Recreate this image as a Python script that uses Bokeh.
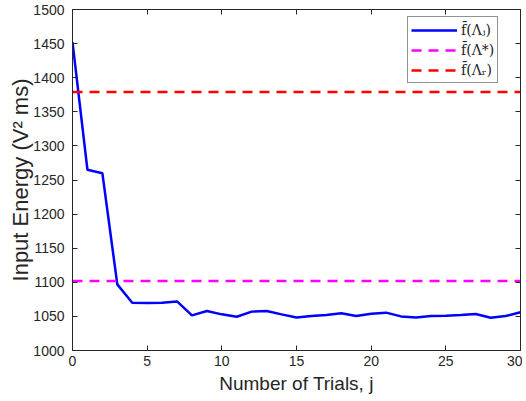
from bokeh.plotting import figure
from bokeh.models import LinearAxis, FixedTicker, Range1d, Legend, LegendItem
from bokeh.embed import file_html
from bokeh.resources import INLINE

# Data
trials = list(range(0, 31))
energy = [1452, 1265, 1260, 1097, 1070, 1069.5, 1070, 1072, 1051.5, 1058,
          1053, 1049.5, 1057, 1058, 1053, 1048.5, 1050.5, 1052, 1054.5, 1050.5,
          1054, 1055.5, 1050, 1048.5, 1050.5, 1051, 1052, 1053.5, 1048, 1050.5, 1056]
f_star = 1102
f_r = 1379
x_ticks = [0, 5, 10, 15, 20, 25, 30]
y_ticks = list(range(1000, 1501, 50))

AX = "#262626"
FONT = "Liberation Sans"

p = figure(frame_width=448, frame_height=341, output_backend="svg", toolbar_location=None,
           x_range=Range1d(0, 30), y_range=Range1d(1000, 1500),
           min_border_left=72, min_border_right=2, min_border_top=9, min_border_bottom=50,
           x_axis_label="Number of Trials, j", y_axis_label="Input Energy (V\u00b2 ms)")
p.xgrid.visible = False
p.ygrid.visible = False
p.outline_line_color = AX
p.outline_line_width = 1
p.background_fill_color = "white"
p.border_fill_color = "white"

for ax in p.xaxis:
    ax.ticker = FixedTicker(ticks=x_ticks)
for ax in p.yaxis:
    ax.ticker = FixedTicker(ticks=y_ticks)

for ax in list(p.xaxis) + list(p.yaxis):
    ax.axis_line_color = AX
    ax.major_tick_line_color = AX
    ax.major_tick_in = 5
    ax.major_tick_out = 0
    ax.minor_tick_line_color = None
    ax.major_label_text_font = FONT
    ax.major_label_text_font_size = "14px"
    ax.major_label_text_color = AX
    ax.axis_label_text_font = FONT
    ax.axis_label_text_font_style = "normal"
    ax.axis_label_text_color = AX
p.xaxis.axis_label_text_font_size = "19px"
p.yaxis.axis_label_text_font_size = "22px"
p.xaxis.major_label_standoff = 5
p.yaxis.major_label_standoff = 8
p.xaxis.axis_label_standoff = 4
p.yaxis.axis_label_standoff = -3

top = LinearAxis(ticker=FixedTicker(ticks=x_ticks),
                 major_label_overrides={t: "" for t in x_ticks}, major_label_text_color=None,
                 major_tick_in=5, major_tick_out=0, minor_tick_line_color=None,
                 axis_line_color=AX, major_tick_line_color=AX, major_label_standoff=0)
right = LinearAxis(ticker=FixedTicker(ticks=y_ticks),
                   major_label_overrides={t: "" for t in y_ticks}, major_label_text_color=None,
                   major_tick_in=5, major_tick_out=0, minor_tick_line_color=None,
                   axis_line_color=AX, major_tick_line_color=AX, major_label_standoff=0)
p.add_layout(top, "above")
p.add_layout(right, "right")

r_main = p.line(trials, energy, line_color="#0000ff", line_width=2.5)
r_star = p.line([0, 30], [f_star, f_star], line_color="#ff00ff", line_width=2.5, line_dash="10 7")
r_r = p.line([0, 30], [f_r, f_r], line_color="#ff0000", line_width=2.5, line_dash="10 7")

legend = Legend(items=[
    LegendItem(label="f\u0304(\u039b\u2c7c)", renderers=[r_main]),
    LegendItem(label="f\u0304(\u039b*)", renderers=[r_star]),
    LegendItem(label="f\u0304(\u039b\u1d63)", renderers=[r_r]),
], location=(335, 267))
legend.label_text_font = "DejaVu Serif"
legend.label_text_font_size = "14px"
legend.label_text_font_style = "normal"
legend.label_text_color = AX
legend.label_width = 30
legend.glyph_width = 46
legend.glyph_height = 18
legend.label_standoff = 4
legend.spacing = 1
legend.padding = 3
legend.margin = 0
legend.border_line_color = AX
legend.border_line_width = 1
legend.background_fill_color = "white"
legend.label_height = 19
p.add_layout(legend)

open("out.html", "w").write(file_html(p, INLINE))
